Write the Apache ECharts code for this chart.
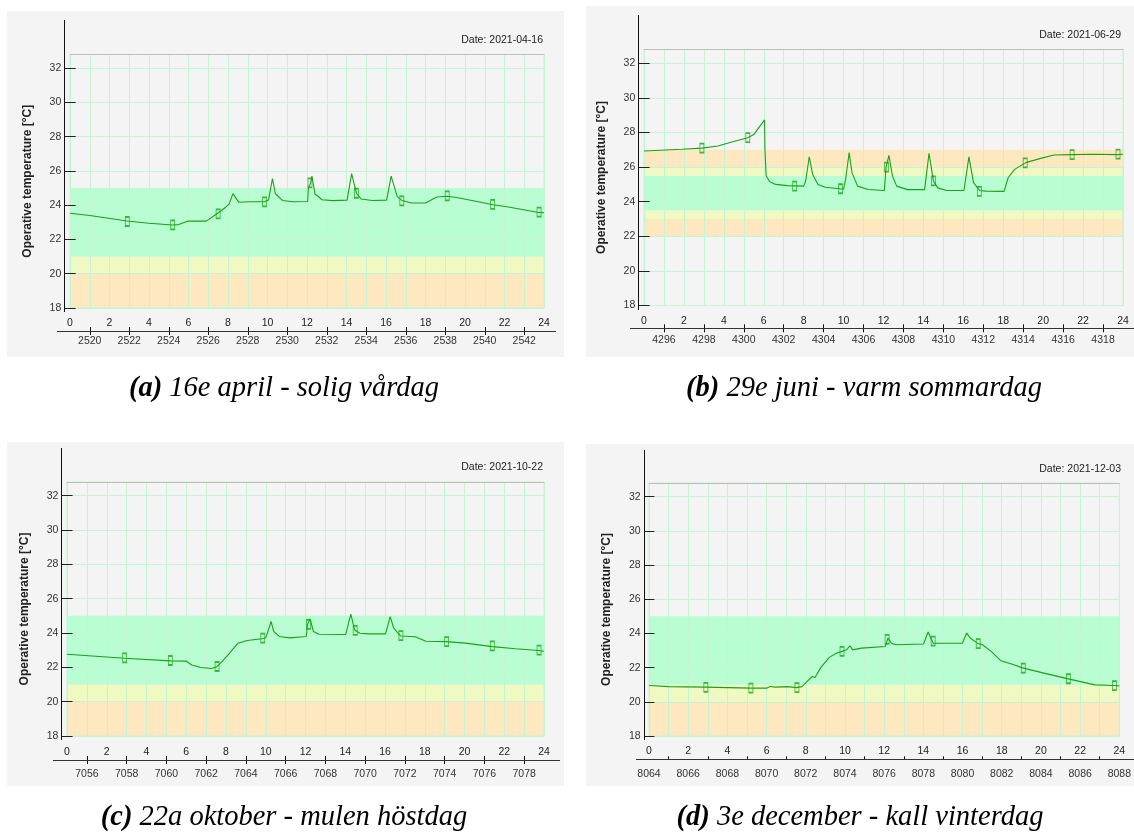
<!DOCTYPE html>
<html><head><meta charset="utf-8">
<script src="https://cdn.jsdelivr.net/npm/echarts@6/dist/echarts.min.js"></script>
<style>html,body{margin:0;padding:0;background:#fff;}#c{width:1134px;height:832px;}</style>
</head><body><div id="c"></div>
<script>
// ---------- DATA ----------
const hourLabels = [0,2,4,6,8,10,12,14,16,18,20,22,24];
const tempTicks = [18,20,22,24,26,28,30,32];
const yRange = [18, 32.8];

// (a) 16 april
const dateA = 'Date: 2021-04-16';
const tagA = '(a)'; const captionA = '16e april - solig vårdag';
const hoursA = [0,1,2.9,4,5.2,5.5,5.95,6.9,7.5,7.9,8.05,8.25,8.55,9.1,9.85,10.05,10.25,10.4,10.75,11.3,12.03,12.07,12.18,12.25,12.4,12.76,13.3,14.03,14.26,14.5,14.75,15.3,16.03,16.26,16.57,16.8,17.3,18.0,18.57,19.1,19.65,21.43,22.2,23.74,24];
const tempA  = [23.53,23.4,23.08,22.95,22.85,22.87,23.07,23.07,23.55,23.9,24.05,24.68,24.17,24.2,24.2,24.3,25.55,24.67,24.28,24.2,24.22,25.0,25.3,25.7,24.67,24.32,24.27,24.3,25.85,24.7,24.36,24.28,24.3,25.7,24.5,24.28,24.13,24.13,24.48,24.52,24.44,24.03,23.9,23.58,23.56];
const markHoursA = [2.9,5.2,7.5,9.85,12.15,14.5,16.8,19.1,21.4,23.75];
const markTempA  = [23.05,22.85,23.5,24.2,25.3,24.7,24.25,24.55,24.05,23.6];
const yearRangeA = [2519, 2543];
const yearLabelsA = [2520,2522,2524,2526,2528,2530,2532,2534,2536,2538,2540,2542];
const bandsA = [[18,20],[20,21],[21,25]];
const bandKindsA = ['orange','yellow','green'];

// (b) 29 juni
const dateB = 'Date: 2021-06-29';
const tagB = '(b)'; const captionB = '29e juni - varm sommardag';
const hoursB = [0,1.9,2.9,3.7,4.4,5.2,5.5,6.04,6.06,6.12,6.3,6.6,7.2,8.0,8.1,8.28,8.45,8.72,9.08,9.8,10.0,10.1,10.28,10.42,10.7,11.23,12.04,12.13,12.27,12.45,12.66,13.2,14.06,14.28,14.5,14.72,15.17,16.03,16.28,16.51,16.82,17.14,18.04,18.25,18.57,19.13,19.83,20.54,21.44,22.5,23.75,24];
const tempB  = [26.93,27.03,27.1,27.22,27.45,27.7,27.88,28.73,27.0,25.5,25.15,25.0,24.93,24.9,25.2,26.6,25.58,25.0,24.84,24.75,24.72,25.3,26.84,25.68,24.9,24.71,24.65,26.0,26.68,25.48,24.9,24.7,24.7,26.8,25.2,24.8,24.65,24.65,26.59,25.1,24.65,24.61,24.6,25.4,25.87,26.26,26.49,26.7,26.72,26.74,26.72,26.74];
const markHoursB = [2.9,5.2,7.55,9.85,12.15,14.5,16.8,19.1,21.45,23.75];
const markTempB  = [27.1,27.7,24.9,24.75,26.0,25.2,24.6,26.25,26.72,26.75];
const yearRangeB = [4295, 4319];
const yearLabelsB = [4296,4298,4300,4302,4304,4306,4308,4310,4312,4314,4316,4318];
const bandsB = [[22,23],[23,23.5],[23.5,25.5],[25.5,26],[26,27]];
const bandKindsB = ['orange','yellow','green','yellow','orange'];

// (c) 22 oktober
const dateC = 'Date: 2021-10-22';
const tagC = '(c)'; const captionC = '22a oktober - mulen höstdag';
const hoursC = [0,2.9,5.23,6.0,6.28,6.73,7.27,7.54,7.8,8.17,8.3,8.4,8.6,9.07,9.6,9.88,10.0,10.27,10.4,10.68,11.2,12.04,12.1,12.23,12.4,12.67,14.02,14.28,14.47,14.74,15.19,16.03,16.26,16.44,16.78,17.52,18.06,19.09,20.04,21.41,22.56,23.73,24];
const tempC  = [22.76,22.53,22.38,22.36,22.14,21.99,21.93,22.04,22.34,22.82,23.0,22.9,23.4,23.56,23.64,23.68,23.72,24.67,24.09,23.8,23.72,23.8,24.5,24.82,24.09,23.93,23.91,25.1,24.18,23.99,23.95,23.95,24.96,24.28,23.83,23.78,23.52,23.5,23.41,23.21,23.08,22.98,22.94];
const markHoursC = [2.9,5.2,7.55,9.85,12.15,14.5,16.8,19.1,21.4,23.75];
const markTempC  = [22.55,22.4,22.05,23.7,24.5,24.15,23.85,23.5,23.25,23.0];
const yearRangeC = [7055, 7079];
const yearLabelsC = [7056,7058,7060,7062,7064,7066,7068,7070,7072,7074,7076,7078];
const bandsC = [[18,20],[20,21],[21,25]];
const bandKindsC = ['orange','yellow','green'];

// (d) 3 december
const dateD = 'Date: 2021-12-03';
const tagD = '(d)'; const captionD = '3e december - kall vinterdag';
const hoursD = [0,1.0,2.9,5.2,6.0,6.18,6.45,6.54,7.08,7.52,7.8,8.15,8.33,8.47,8.78,9.2,9.58,9.85,10.08,10.26,10.39,10.84,12.06,12.19,12.37,12.63,14.01,14.24,14.42,14.5,15.99,16.21,16.39,16.75,17.02,17.46,17.96,18.54,19.11,20.15,21.4,22.75,23.72,24];
const tempD  = [20.95,20.89,20.86,20.8,20.8,20.9,20.86,20.89,20.89,20.83,20.89,21.28,21.48,21.42,22.03,22.6,22.85,22.95,23.04,23.28,23.04,23.14,23.24,23.73,23.43,23.34,23.38,24.08,23.63,23.43,23.43,24.02,23.73,23.43,23.34,22.95,22.4,22.2,21.97,21.68,21.34,20.99,20.95,20.93];
const markHoursD = [2.9,5.2,7.55,9.85,12.15,14.5,16.8,19.1,21.4,23.75];
const markTempD  = [20.85,20.8,20.83,22.95,23.65,23.55,23.4,21.97,21.35,20.95];
const yearRangeD = [8064, 8088];
const yearLabelsD = [8064,8066,8068,8070,8072,8074,8076,8078,8080,8082,8084,8086,8088];
const yearTicksD = [8065,8067,8069,8071,8073,8075,8077,8079,8081,8083,8085,8087];
const bandsD = [[18,20],[20,21],[21,25]];
const bandKindsD = ['orange','yellow','green'];

const yName = 'Operative temperature [°C]';

// ---------- STYLE / LAYOUT ----------
const bandColors = {green:'#b9fdd2', yellow:'#f1f9c2', orange:'#fde8c0'};
const lineColor = '#17a317';
const gridLineColor = '#c4f5d2';
const panelBg = '#f4f4f4';
const FONT = '"Liberation Sans", Arial, sans-serif';
const SERIF = '"Liberation Serif", "Times New Roman", serif';

const layout = [
 {left:70, top:54.5, width:474, height:253.5, axisX:64.3, axisTop:20, axisBottom:312, lowY:331, lowX:[57,556], lowLab:342, hourLab:324, bg:[7,11,557,346], dateX:543, dateY:40, capX:284, capY:389, tickMode:'cross'},
 {left:644, top:49.5, width:479, height:256, axisX:638.3, axisTop:15, axisBottom:310, lowY:328.3, lowX:[630,1134], lowLab:341, hourLab:321.7, bg:[586,6,548,351], dateX:1121, dateY:35, capX:864, capY:389, tickMode:'cross'},
 {left:67, top:482, width:477, height:254, axisX:61.4, axisTop:448, axisBottom:740, lowY:760, lowX:[53,560], lowLab:775, hourLab:752.7, bg:[7,442,557,344], dateX:543, dateY:467, capX:284, capY:818, tickMode:'cross'},
 {left:649, top:483, width:474, height:253, axisX:643.6, axisTop:450, axisBottom:740, lowY:759.3, lowX:[636,1134], lowLab:775, hourLab:752, bg:[586,444,548,342], dateX:1121, dateY:469, capX:860, capY:818, tickMode:'inside'}
];

const panels = [
 {h:hoursA, t:tempA, mh:markHoursA, mt:markTempA, yr:yearRangeA, yl:yearLabelsA, yt:yearLabelsA, bands:bandsA, kinds:bandKindsA, date:dateA, tag:tagA, cap:captionA},
 {h:hoursB, t:tempB, mh:markHoursB, mt:markTempB, yr:yearRangeB, yl:yearLabelsB, yt:yearLabelsB, bands:bandsB, kinds:bandKindsB, date:dateB, tag:tagB, cap:captionB},
 {h:hoursC, t:tempC, mh:markHoursC, mt:markTempC, yr:yearRangeC, yl:yearLabelsC, yt:yearLabelsC, bands:bandsC, kinds:bandKindsC, date:dateC, tag:tagC, cap:captionC},
 {h:hoursD, t:tempD, mh:markHoursD, mt:markTempD, yr:yearRangeD, yl:yearLabelsD, yt:yearTicksD, bands:bandsD, kinds:bandKindsD, date:dateD, tag:tagD, cap:captionD}
];

const grid = [], xAxis = [], yAxis = [], series = [], graphic = [];

panels.forEach((p, i) => {
  const L = layout[i];
  const bottom = L.top + L.height;
  grid.push({left:L.left, top:L.top, width:L.width, height:L.height, show:true, z:2,
             borderColor:gridLineColor, borderWidth:1, backgroundColor:'transparent'});
  const gx = i*3, gy = i*2;
  // main hour axis
  xAxis.push({gridIndex:i, type:'value', min:0, max:24, interval:1, z:2,
    axisLine:{show:false}, axisTick:{show:false},
    splitLine:{show:true, lineStyle:{color:gridLineColor, width:1}},
    axisLabel:{show:true, margin:L.hourLab - bottom - 6, fontSize:10.5, color:'#222', fontFamily:FONT,
      formatter: v => hourLabels.indexOf(v) >= 0 ? String(v) : ''}});
  // hour-of-year axis
  const cross = L.tickMode === 'cross';
  const axisPos = cross ? L.lowY - 4 : L.lowY;
  xAxis.push({gridIndex:i, type:'value', min:p.yr[0], max:p.yr[1], position:'bottom', offset:axisPos - bottom, z:2,
    axisLine:{show:false}, splitLine:{show:false},
    axisTick:{show:true, inside:!cross, length:cross ? 8 : 3, customValues:p.yt, lineStyle:{color:'#111', width:1}},
    axisLabel:{show:true, customValues:p.yl, margin:L.lowLab - 6 - axisPos, fontSize:10.5, color:'#333', fontFamily:FONT,
      formatter: v => String(v)}});
  // top border axis
  xAxis.push({gridIndex:i, type:'value', min:0, max:24, position:'top', z:3,
    axisLine:{show:true, lineStyle:{color:'#bdbdbd', width:1}}, axisTick:{show:false}, axisLabel:{show:false}, splitLine:{show:false}});
  // y axes
  const off = L.left - L.axisX;
  yAxis.push({gridIndex:i, type:'value', min:yRange[0], max:yRange[1], interval:2, offset:off, z:2,
    name:yName, nameLocation:'middle', nameGap:31, nameRotate:90,
    nameTextStyle:{fontSize:12, fontWeight:'bold', color:'#222', fontFamily:FONT},
    axisLine:{show:false},
    axisTick:{show:true, length:5, customValues:tempTicks, lineStyle:{color:'#222'}},
    axisLabel:{show:true, customValues:tempTicks, margin:3, fontSize:10.5, color:'#333', fontFamily:FONT},
    splitLine:{show:true, lineStyle:{color:gridLineColor, width:1}}});
  yAxis.push({gridIndex:i, type:'value', min:yRange[0], max:yRange[1], interval:2, offset:0, z:2,
    axisLine:{show:false}, axisLabel:{show:false}, splitLine:{show:false},
    axisTick:{show:true, length:off, customValues:tempTicks, lineStyle:{color:'#222'}}});

  // temperature line with comfort bands
  series.push({type:'line', xAxisIndex:gx, yAxisIndex:gy, z:4, silent:true, animation:false,
    data:p.h.map((hh, k) => [hh, p.t[k]]),
    showSymbol:false, symbol:'none',
    lineStyle:{color:lineColor, width:1.1},
    markArea:{silent:true, z:1,
      data:p.bands.map((b, k) => [{yAxis:b[0], itemStyle:{color:bandColors[p.kinds[k]]}}, {yAxis:b[1]}])}});
  // markers
  series.push({type:'scatter', xAxisIndex:gx, yAxisIndex:gy, z:5, silent:true, animation:false,
    data:p.mh.map((hh, k) => [hh, p.mt[k]]),
    symbol:'rect', symbolSize:[4,9],
    itemStyle:{color:'rgba(0,0,0,0)', borderColor:lineColor, borderWidth:1.2}});

  // decorations
  graphic.push({type:'rect', z:-10, silent:true, shape:{x:L.bg[0], y:L.bg[1], width:L.bg[2], height:L.bg[3]}, style:{fill:panelBg}});
  graphic.push({type:'line', z:10, silent:true, shape:{x1:Math.round(L.axisX)+0.5, y1:L.axisTop, x2:Math.round(L.axisX)+0.5, y2:L.axisBottom}, style:{stroke:'#111', lineWidth:1}});
  graphic.push({type:'line', z:10, silent:true, shape:{x1:L.lowX[0], y1:Math.round(L.lowY)+0.5, x2:L.lowX[1], y2:Math.round(L.lowY)+0.5}, style:{stroke:'#333', lineWidth:1.2}});
  graphic.push({type:'text', z:10, silent:true, x:L.dateX, y:L.dateY,
    style:{text:p.date, fill:'#222', font:'10.5px ' + FONT, align:'right', verticalAlign:'middle'}});
  graphic.push({type:'text', z:10, silent:true, x:L.capX, y:L.capY,
    style:{text:'{b|' + p.tag + '} ' + p.cap, fill:'#000', font:'italic 28.5px ' + SERIF,
      align:'center', verticalAlign:'middle',
      rich:{b:{font:'italic bold 28.5px ' + SERIF, fill:'#000'}}}});
});

const chart = echarts.init(document.getElementById('c'), null, {renderer:'canvas'});
chart.setOption({
  animation:false,
  backgroundColor:'#ffffff',
  textStyle:{fontFamily:FONT},
  grid, xAxis, yAxis, series, graphic
});
</script>
</body></html>
